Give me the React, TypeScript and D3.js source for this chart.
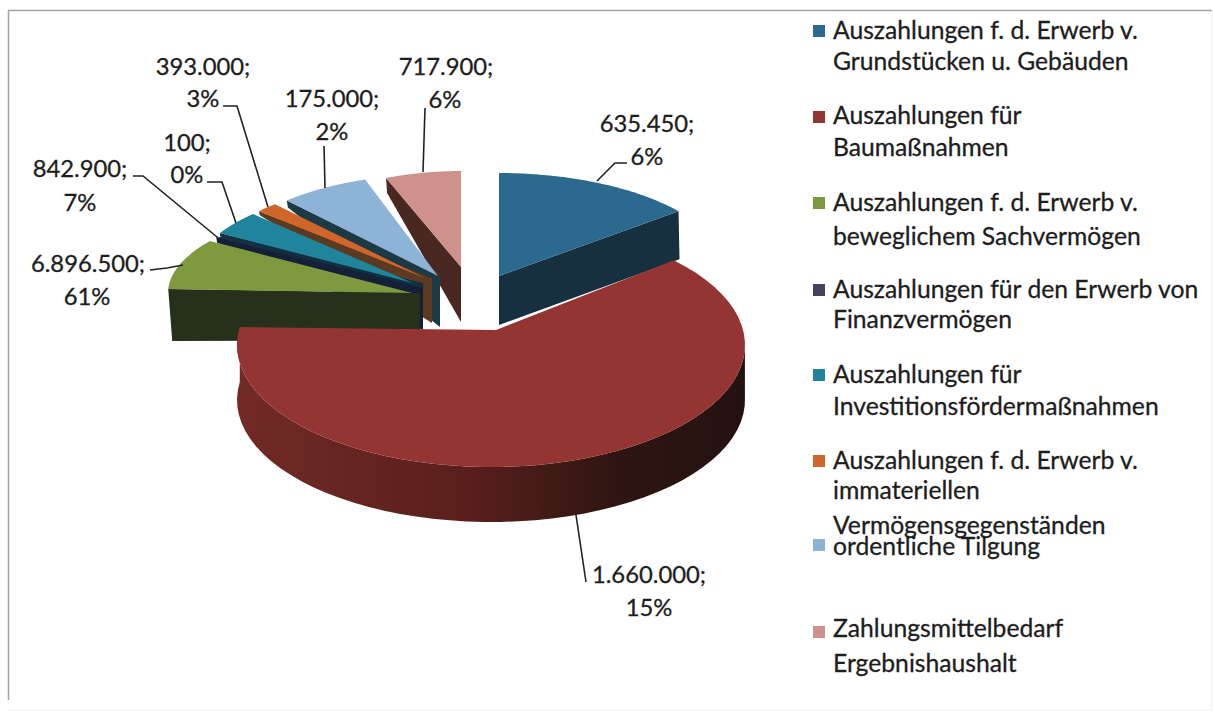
import React from "react";
import * as d3 from "d3";

const categories = [
  "Auszahlungen f. d. Erwerb v. Grundstücken u. Gebäuden",
  "Auszahlungen für Baumaßnahmen",
  "Auszahlungen f. d. Erwerb v. beweglichem Sachvermögen",
  "Auszahlungen für den Erwerb von Finanzvermögen",
  "Auszahlungen für Investitionsfördermaßnahmen",
  "Auszahlungen f. d. Erwerb v. immateriellen Vermögensgegenständen",
  "ordentliche Tilgung",
  "Zahlungsmittelbedarf Ergebnishaushalt",
];
const valueLabels = ["635.450;", "1.660.000;", "6.896.500;", "842.900;", "100;", "393.000;", "175.000;", "717.900;"];
const percentLabels = ["6%", "15%", "61%", "7%", "0%", "3%", "2%", "6%"];
// Apparent sweep of each slice, in degrees.
const apparentSweeps = [51, 232.5, 31.6, 0.3, 14, 5.8, 23.3, 22];

const legendLines = [
  ["Auszahlungen f. d. Erwerb v.", "Grundstücken u. Gebäuden"],
  ["Auszahlungen für", "Baumaßnahmen"],
  ["Auszahlungen f. d. Erwerb v.", "beweglichem Sachvermögen"],
  ["Auszahlungen für den Erwerb von", "Finanzvermögen"],
  ["Auszahlungen für", "Investitionsfördermaßnahmen"],
  ["Auszahlungen f. d. Erwerb v.", "immateriellen", "Vermögensgegenständen"],
  ["ordentliche Tilgung"],
  ["Zahlungsmittelbedarf", "Ergebnishaushalt"],
];

const topColors = ["#2b6a8e", "#953533", "#7f9a3e", "#2a3350", "#20859c", "#d0662a", "#8db3d6", "#cf918c"];
const wallColors = ["#16303f", "#5a1f1c", "#26301a", "#141f38", "#12303f", "#5c3a22", "#1c3a46", "#4a2822"];
const swatchColors = ["#2b6a8e", "#953533", "#7f9a3e", "#46405e", "#20859c", "#d0662a", "#8db3d6", "#cf918c"];

type Geo = {
  ax: number; ay: number; ex: number; ey: number; rx: number; ry: number; rot: number;
  edge: "start" | "end" | "none"; inner: number; outer: number; ext: number;
};
const geo: Geo[] = [
  { ax: 499, ay: 276, ex: 499, ey: 276, rx: 231, ry: 103, rot: 0, edge: "end", inner: 49, outer: 48, ext: 0 },
  { ax: 496, ay: 330, ex: 491, ey: 345, rx: 254, ry: 122, rot: -5, edge: "none", inner: 0, outer: 55, ext: 0 },
  { ax: 412, ay: 293, ex: 412, ey: 293, rx: 244, ry: 92.7, rot: -11, edge: "start", inner: 47, outer: 52, ext: 8 },
  { ax: 412, ay: 288, ex: 412, ey: 288, rx: 228, ry: 100, rot: -14.3, edge: "start", inner: 42, outer: 6, ext: 11 },
  { ax: 413, ay: 283, ex: 413, ey: 283, rx: 224, ry: 98.6, rot: -15, edge: "start", inner: 42, outer: 6, ext: 10 },
  { ax: 425, ay: 278, ex: 425, ey: 278, rx: 225, ry: 99, rot: -17, edge: "start", inner: 45, outer: 4, ext: 7 },
  { ax: 438, ay: 276, ex: 438, ey: 276, rx: 225, ry: 102, rot: -17.4, edge: "start", inner: 51, outer: 7, ext: 2 },
  { ax: 461, ay: 267, ex: 461, ey: 267, rx: 200, ry: 96, rot: -20.5, edge: "start", inner: 55, outer: 15, ext: 0 },
];
const drawOrder = [7, 6, 5, 4, 3, 2, 0, 1];

const labelPos = [
  [647, 123, 647, 156], [649, 574, 649, 607], [88, 263, 87, 296], [80, 168, 80, 202],
  [187, 142, 187, 174], [203, 66, 203, 98], [332, 98, 332, 131], [446, 66, 445, 99],
];
const leaders: [number, number][][] = [
  [[627, 163], [615, 163], [597, 181]],
  [[576, 515], [586, 582]],
  [[150, 270], [167, 268], [183, 265]],
  [[133, 176], [143, 176], [217, 237]],
  [[207, 182], [222, 182], [236, 223]],
  [[223, 106], [237, 106], [268, 207]],
  [[324, 146], [325, 188]],
  [[425, 108], [423, 172]],
];
const legendRows = [
  [31, 62], [116, 148], [203, 237], [290, 320], [375, 407], [461, 491, 526], [547], [629, 664],
];
const swatchY = [31, 117, 203, 290, 375, 461, 545, 632];

const FONT = "Lato, 'Open Sans', sans-serif";
const rad = (d: number) => (d * Math.PI) / 180;

export default function App() {
  const total = d3.sum(apparentSweeps);
  const arcs = d3.pie<number>().sort(null).value((d) => d)(apparentSweeps);
  const stretch = total / 360;
  const line = d3.line<[number, number]>();

  const pt = (g: Geo, a: number): [number, number] => {
    return [g.ex + g.rx * Math.sin(a), g.ey - g.ry * Math.cos(a)];
  };

  const pieces = drawOrder.map((i) => {
    const g = geo[i];
    const a0 = arcs[i].startAngle * stretch + rad(g.rot);
    const a1 = arcs[i].endAngle * stretch + rad(g.rot);
    const samples = d3.range(0, 61).map((k) => a0 + ((a1 - a0) * k) / 60);
    const top: [number, number][] = [[g.ax, g.ay], ...samples.map((a) => pt(g, a))];
    const topPath = line(top) + "Z";

    let wall: string | null = null;
    if (g.edge !== "none") {
      const p = pt(g, g.edge === "start" ? a0 : a1);
      wall =
        line([
          p,
          [g.ax + g.ext, g.ay],
          [g.ax + g.ext, g.ay + g.inner],
          [p[0] + (i === 2 ? 4 : 1), p[1] + g.outer],
        ]) + "Z";
    }
    let rim: string | null = null;
    if (i === 1) {
      const front = samples.filter((a) => a >= rad(86));
      const upper = front.map((a) => pt(g, a));
      const lower = upper
        .slice()
        .reverse()
        .map(([x, y]): [number, number] => [x, y + g.outer]);
      rim = line([...upper, ...lower]) + "Z";
    }
    return { i, topPath, wall, rim };
  });

  return (
    <svg
      width={1213}
      height={712}
      viewBox="0 0 1213 712"
      style={{ position: "absolute", left: 0, top: 0, background: "#fff" }}
      fontFamily={FONT}
      fill="#1d1d1d"
    >
      <defs>
        <linearGradient id="redRim" x1="0" x2="1" y1="0" y2="0">
          <stop offset="0" stopColor="#722a26" />
          <stop offset="0.45" stopColor="#5a1f1c" />
          <stop offset="0.75" stopColor="#2e1512" />
          <stop offset="1" stopColor="#241210" />
        </linearGradient>
      </defs>

      <path d="M8.5 700V10.5H1212" fill="none" stroke="#a3a3a3" strokeWidth={1.5} />
      <path d="M1212 11V710H8" fill="none" stroke="#ececec" strokeWidth={1} />

      {pieces.map((p) => (
        <g key={p.i}>
          {p.wall && <path d={p.wall} fill={wallColors[p.i]} />}
          {p.rim && <path d={p.rim} fill="url(#redRim)" />}
          <path d={p.topPath} fill={topColors[p.i]} />
        </g>
      ))}

      {leaders.map((pts, i) => (
        <path key={i} d={line(pts) ?? ""} fill="none" stroke="#222" strokeWidth={1.6} />
      ))}

      <g stroke="#1d1d1d" strokeWidth={0.3}>
        {valueLabels.map((v, i) => (
          <g key={v} fontSize={23.8} textAnchor="middle">
            <text x={labelPos[i][0]} y={labelPos[i][1] + 8.5}>{v}</text>
            <text x={labelPos[i][2]} y={labelPos[i][3] + 8.5}>{percentLabels[i]}</text>
          </g>
        ))}
      </g>

      {categories.map((c, i) => (
        <g key={c}>
          <rect x={813} y={swatchY[i] - 6} width={12} height={12} fill={swatchColors[i]} />
          {legendLines[i].map((t, j) => (
            <text key={j} x={833} y={legendRows[i][j] + 8} fontSize={24.7} stroke="#1d1d1d" strokeWidth={0.3}>{t}</text>
          ))}
        </g>
      ))}
    </svg>
  );
}
